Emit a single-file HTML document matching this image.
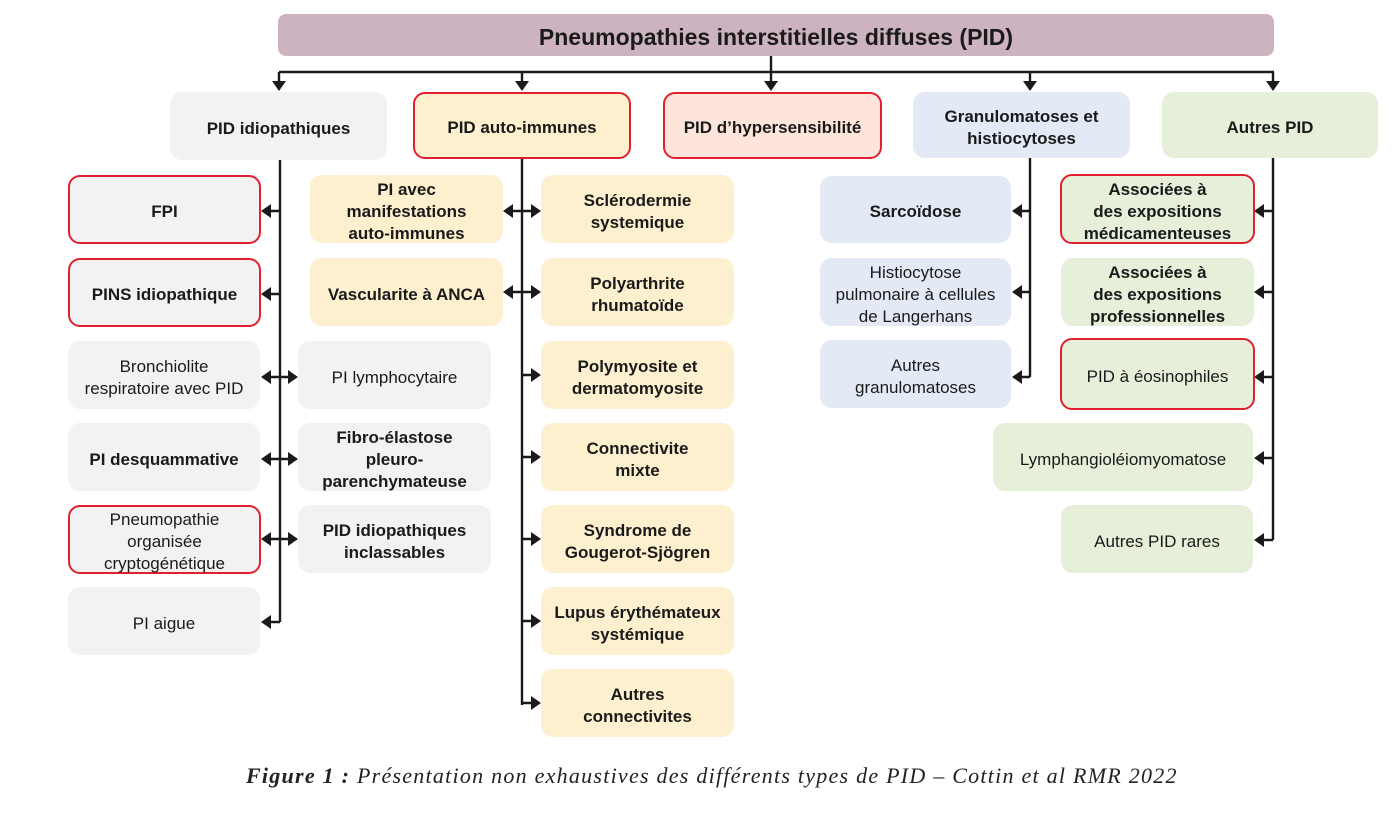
<!DOCTYPE html>
<html><head><meta charset="utf-8"><style>
body{margin:0;width:1397px;height:822px;background:#fff;position:relative;overflow:hidden;font-family:"Liberation Sans",sans-serif;color:#1a1a1a}
.b{position:absolute;display:flex;align-items:center;justify-content:center;text-align:center;border-radius:12px;font-size:17px;line-height:22px;box-sizing:border-box;padding-top:5px}
.r{border:2px solid #e02030}
.g{background:#f2f2f2}.y{background:#fdf0cf}.p{background:#fde5dc}.bl{background:#e3eaf5}.gr{background:#e6efd9}
.bo{font-weight:bold}
svg{position:absolute;left:0;top:0}
.cap{position:absolute;left:246px;top:763px;font-family:"Liberation Serif",serif;font-style:italic;font-size:22px;color:#222;letter-spacing:1.25px;white-space:nowrap}
</style></head><body>
<svg width="1397" height="822">
<g stroke="#1a1a1a" stroke-width="2.4" fill="none">
<line x1="279" y1="72" x2="1274" y2="72"/><line x1="771" y1="56" x2="771" y2="72"/>
<line x1="279" y1="72" x2="279" y2="82"/><line x1="522" y1="72" x2="522" y2="82"/><line x1="771" y1="72" x2="771" y2="82"/><line x1="1030" y1="72" x2="1030" y2="82"/><line x1="1273" y1="72" x2="1273" y2="82"/>
<line x1="280" y1="160" x2="280" y2="622"/>
<line x1="522" y1="159" x2="522" y2="705"/>
<line x1="1030" y1="158" x2="1030" y2="377"/>
<line x1="1273" y1="158" x2="1273" y2="540"/>
<path d="M270 211H280M270 294H280M270 377H288M270 459H288M270 539H288M270 622H280"/>
<path d="M512 211H531M512 292H531M522 375H531M522 457H531M522 539H531M522 621H531M522 703H531"/>
<path d="M1021 211H1030M1021 292H1030M1021 377H1030"/>
<path d="M1263 211H1273M1263 292H1273M1263 377H1273M1263 458H1273M1263 540H1273"/>
</g>
<g fill="#1a1a1a">
<path d="M272 81h14l-7 10zM515 81h14l-7 10zM764 81h14l-7 10zM1023 81h14l-7 10zM1266 81h14l-7 10z"/>
<path d="M261 211l10-7v14zM261 294l10-7v14zM261 377l10-7v14zM261 459l10-7v14zM261 539l10-7v14zM261 622l10-7v14z"/>
<path d="M298 377l-10-7v14zM298 459l-10-7v14zM298 539l-10-7v14z"/>
<path d="M503 211l10-7v14zM503 292l10-7v14z"/>
<path d="M541 211l-10-7v14zM541 292l-10-7v14zM541 375l-10-7v14zM541 457l-10-7v14zM541 539l-10-7v14zM541 621l-10-7v14zM541 703l-10-7v14z"/>
<path d="M1012 211l10-7v14zM1012 292l10-7v14zM1012 377l10-7v14z"/>
<path d="M1254 211l10-7v14zM1254 292l10-7v14zM1254 377l10-7v14zM1254 458l10-7v14zM1254 540l10-7v14z"/>
</g>
</svg>
<div class="b bo" style="left:278px;top:14px;width:996px;height:42px;background:#cdb3c0;border-radius:8px;font-size:23px;padding-top:3px">Pneumopathies interstitielles diffuses (PID)</div>
<div class="b g bo" style="left:170px;top:92px;width:217px;height:68px">PID idiopathiques</div>
<div class="b y r bo" style="left:413px;top:92px;width:218px;height:67px">PID auto-immunes</div>
<div class="b p r bo" style="left:663px;top:92px;width:219px;height:67px">PID d’hypersensibilité</div>
<div class="b bl bo" style="left:913px;top:92px;width:217px;height:66px">Granulomatoses et<br>histiocytoses</div>
<div class="b gr bo" style="left:1162px;top:92px;width:216px;height:66px">Autres PID</div>

<div class="b g r bo" style="left:68px;top:175px;width:193px;height:69px">FPI</div>
<div class="b g r bo" style="left:68px;top:258px;width:193px;height:69px">PINS idiopathique</div>
<div class="b g" style="left:68px;top:341px;width:192px;height:68px">Bronchiolite<br>respiratoire avec PID</div>
<div class="b g bo" style="left:68px;top:423px;width:192px;height:68px">PI desquammative</div>
<div class="b g r" style="left:68px;top:505px;width:193px;height:69px">Pneumopathie<br>organisée<br>cryptogénétique</div>
<div class="b g" style="left:68px;top:587px;width:192px;height:68px">PI aigue</div>

<div class="b y bo" style="left:310px;top:175px;width:193px;height:68px">PI avec<br>manifestations<br>auto-immunes</div>
<div class="b y bo" style="left:310px;top:258px;width:193px;height:68px">Vascularite à ANCA</div>
<div class="b g" style="left:298px;top:341px;width:193px;height:68px">PI lymphocytaire</div>
<div class="b g bo" style="left:298px;top:423px;width:193px;height:68px">Fibro-élastose<br>pleuro-<br>parenchymateuse</div>
<div class="b g bo" style="left:298px;top:505px;width:193px;height:68px">PID idiopathiques<br>inclassables</div>

<div class="b y bo" style="left:541px;top:175px;width:193px;height:68px">Sclérodermie<br>systemique</div>
<div class="b y bo" style="left:541px;top:258px;width:193px;height:68px">Polyarthrite<br>rhumatoïde</div>
<div class="b y bo" style="left:541px;top:341px;width:193px;height:68px">Polymyosite et<br>dermatomyosite</div>
<div class="b y bo" style="left:541px;top:423px;width:193px;height:68px">Connectivite<br>mixte</div>
<div class="b y bo" style="left:541px;top:505px;width:193px;height:68px">Syndrome de<br>Gougerot-Sjögren</div>
<div class="b y bo" style="left:541px;top:587px;width:193px;height:68px">Lupus érythémateux<br>systémique</div>
<div class="b y bo" style="left:541px;top:669px;width:193px;height:68px">Autres<br>connectivites</div>

<div class="b bl bo" style="left:820px;top:176px;width:191px;height:67px">Sarcoïdose</div>
<div class="b bl" style="left:820px;top:258px;width:191px;height:68px">Histiocytose<br>pulmonaire à cellules<br>de Langerhans</div>
<div class="b bl" style="left:820px;top:340px;width:191px;height:68px">Autres<br>granulomatoses</div>

<div class="b gr r bo" style="left:1060px;top:174px;width:195px;height:70px">Associées à<br>des expositions<br>médicamenteuses</div>
<div class="b gr bo" style="left:1061px;top:258px;width:193px;height:68px">Associées à<br>des expositions<br>professionnelles</div>
<div class="b gr r" style="left:1060px;top:338px;width:195px;height:72px">PID à éosinophiles</div>
<div class="b gr" style="left:993px;top:423px;width:260px;height:68px">Lymphangioléiomyomatose</div>
<div class="b gr" style="left:1061px;top:505px;width:192px;height:68px">Autres PID rares</div>

<div class="cap"><b>Figure 1 :</b> Présentation non exhaustives des différents types de PID – Cottin et al RMR 2022</div>
</body></html>
